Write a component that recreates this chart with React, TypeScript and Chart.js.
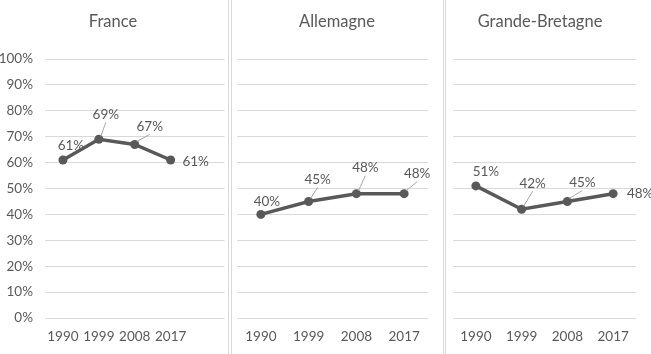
import React, { useEffect, useRef } from 'react';
import { Chart, registerables } from 'chart.js';

Chart.register(...registerables);

// ---- data ----
const years = ['1990', '1999', '2008', '2017'];
const franceValues = [61, 69, 67, 61];
const allemagneValues = [40, 45, 48, 48];
const grandeBretagneValues = [51, 42, 45, 48];
const panelTitles = ['France', 'Allemagne', 'Grande-Bretagne'];

// ---- styling ----
const FONT = 'Lato, "Open Sans", "Liberation Sans", sans-serif';
const TEXT = '#595959';
const LINE = '#595959';
const GRID = '#d9d9d9';

type Off = { dx: number; dy: number; leader: boolean };

type Panel = {
  title: string;
  values: number[];
  left: number;
  width: number;
  padLeft: number;
  padRight: number;
  yAxisWidth: number;
  showY: boolean;
  extraCategory: boolean;
  titleX: number;
  offsets: Off[];
};

const panels: Panel[] = [
  {
    title: panelTitles[0], values: franceValues, left: 0, width: 229,
    padLeft: 0, padRight: 1, yAxisWidth: 45, showY: true, extraCategory: true, titleX: 113,
    offsets: [
      { dx: 8, dy: -14, leader: false },
      { dx: 7, dy: -25, leader: true },
      { dx: 15, dy: -18, leader: true },
      { dx: 25, dy: 2, leader: false },
    ],
  },
  {
    title: panelTitles[1], values: allemagneValues, left: 231, width: 213,
    padLeft: 6, padRight: 16, yAxisWidth: 0, showY: false, extraCategory: false, titleX: 106,
    offsets: [
      { dx: 6, dy: -13, leader: false },
      { dx: 9, dy: -22, leader: true },
      { dx: 9, dy: -26, leader: true },
      { dx: 13, dy: -20, leader: true },
    ],
  },
  {
    title: panelTitles[2], values: grandeBretagneValues, left: 445, width: 206,
    padLeft: 8, padRight: 15, yAxisWidth: 0, showY: false, extraCategory: false, titleX: 95,
    offsets: [
      { dx: 10, dy: -14, leader: false },
      { dx: 11, dy: -26, leader: true },
      { dx: 15, dy: -19, leader: true },
      { dx: 27, dy: 0, leader: false },
    ],
  },
];

function makePlugin(p: Panel) {
  return {
    id: 'panelDecor',
    afterDatasetsDraw(chart: any) {
      const ctx = chart.ctx as CanvasRenderingContext2D;
      ctx.save();
      // title
      ctx.fillStyle = TEXT;
      ctx.font = `16.5px ${FONT}`;
      ctx.textAlign = 'center';
      ctx.textBaseline = 'middle';
      ctx.fillText(p.title, p.titleX, 22);
      // data labels
      const meta = chart.getDatasetMeta(0);
      ctx.font = `13.5px ${FONT}`;
      meta.data.forEach((pt: any, i: number) => {
        const o = p.offsets[i];
        if (!o) return;
        const lx = pt.x + o.dx;
        const ly = pt.y + o.dy;
        if (o.leader) {
          ctx.strokeStyle = '#a6a6a6';
          ctx.lineWidth = 1;
          ctx.beginPath();
          ctx.moveTo(lx, ly + 8);
          ctx.lineTo(pt.x + 2, pt.y - 3);
          ctx.stroke();
        }
        ctx.fillStyle = TEXT;
        ctx.fillText(`${p.values[i]}%`, lx, ly);
      });
      ctx.restore();
    },
  };
}

function PanelChart({ p }: { p: Panel }) {
  const ref = useRef<HTMLCanvasElement | null>(null);
  useEffect(() => {
    if (!ref.current) return;
    const labels = p.extraCategory ? [...years, ''] : years;
    const chart = new Chart(ref.current, {
      type: 'line',
      data: {
        labels,
        datasets: [
          {
            data: p.values,
            borderColor: LINE,
            backgroundColor: LINE,
            borderWidth: 3.5,
            pointRadius: 4.5,
            pointBackgroundColor: LINE,
            pointBorderColor: LINE,
            pointBorderWidth: 0,
            tension: 0,
          },
        ],
      },
      options: {
        animation: false,
        responsive: false,
        maintainAspectRatio: false,
        layout: { padding: { top: 59, left: p.padLeft, right: p.padRight, bottom: 0 } },
        plugins: { legend: { display: false }, tooltip: { enabled: false }, title: { display: false } },
        scales: {
          x: {
            type: 'category',
            offset: true,
            grid: { display: false, drawTicks: false },
            border: { display: false },
            ticks: { color: TEXT, font: { family: FONT, size: 13.5 }, padding: 11, maxRotation: 0, autoSkip: false },
            afterFit: (s: any) => { s.height = 36; },
          },
          y: {
            min: 0,
            max: 100,
            grid: { color: GRID, lineWidth: 1, drawTicks: false },
            border: { display: false },
            ticks: {
              display: p.showY,
              stepSize: 10,
              color: TEXT,
              font: { family: FONT, size: 13.5 },
              padding: 12,
              callback: (v: any) => `${v}%`,
            },
            afterFit: (s: any) => { s.width = p.yAxisWidth; },
          },
        },
      },
      plugins: [makePlugin(p)],
    } as any);
    return () => chart.destroy();
  }, [p]);
  return (
    <canvas
      ref={ref}
      width={p.width}
      height={354}
      style={{ position: 'absolute', left: p.left, top: 0, width: p.width, height: 354 }}
    />
  );
}

export default function App() {
  const sep = (x: number) => (
    <div style={{ position: 'absolute', left: x, top: 0, width: 1, height: 354, background: GRID }} />
  );
  return (
    <div style={{ position: 'fixed', left: 0, top: 0, width: 651, height: 354, background: '#fff', overflow: 'hidden' }}>
      {panels.map((p) => (
        <PanelChart key={p.title} p={p} />
      ))}
      {sep(228)}
      {sep(231)}
      {sep(443)}
      {sep(445)}
    </div>
  );
}
